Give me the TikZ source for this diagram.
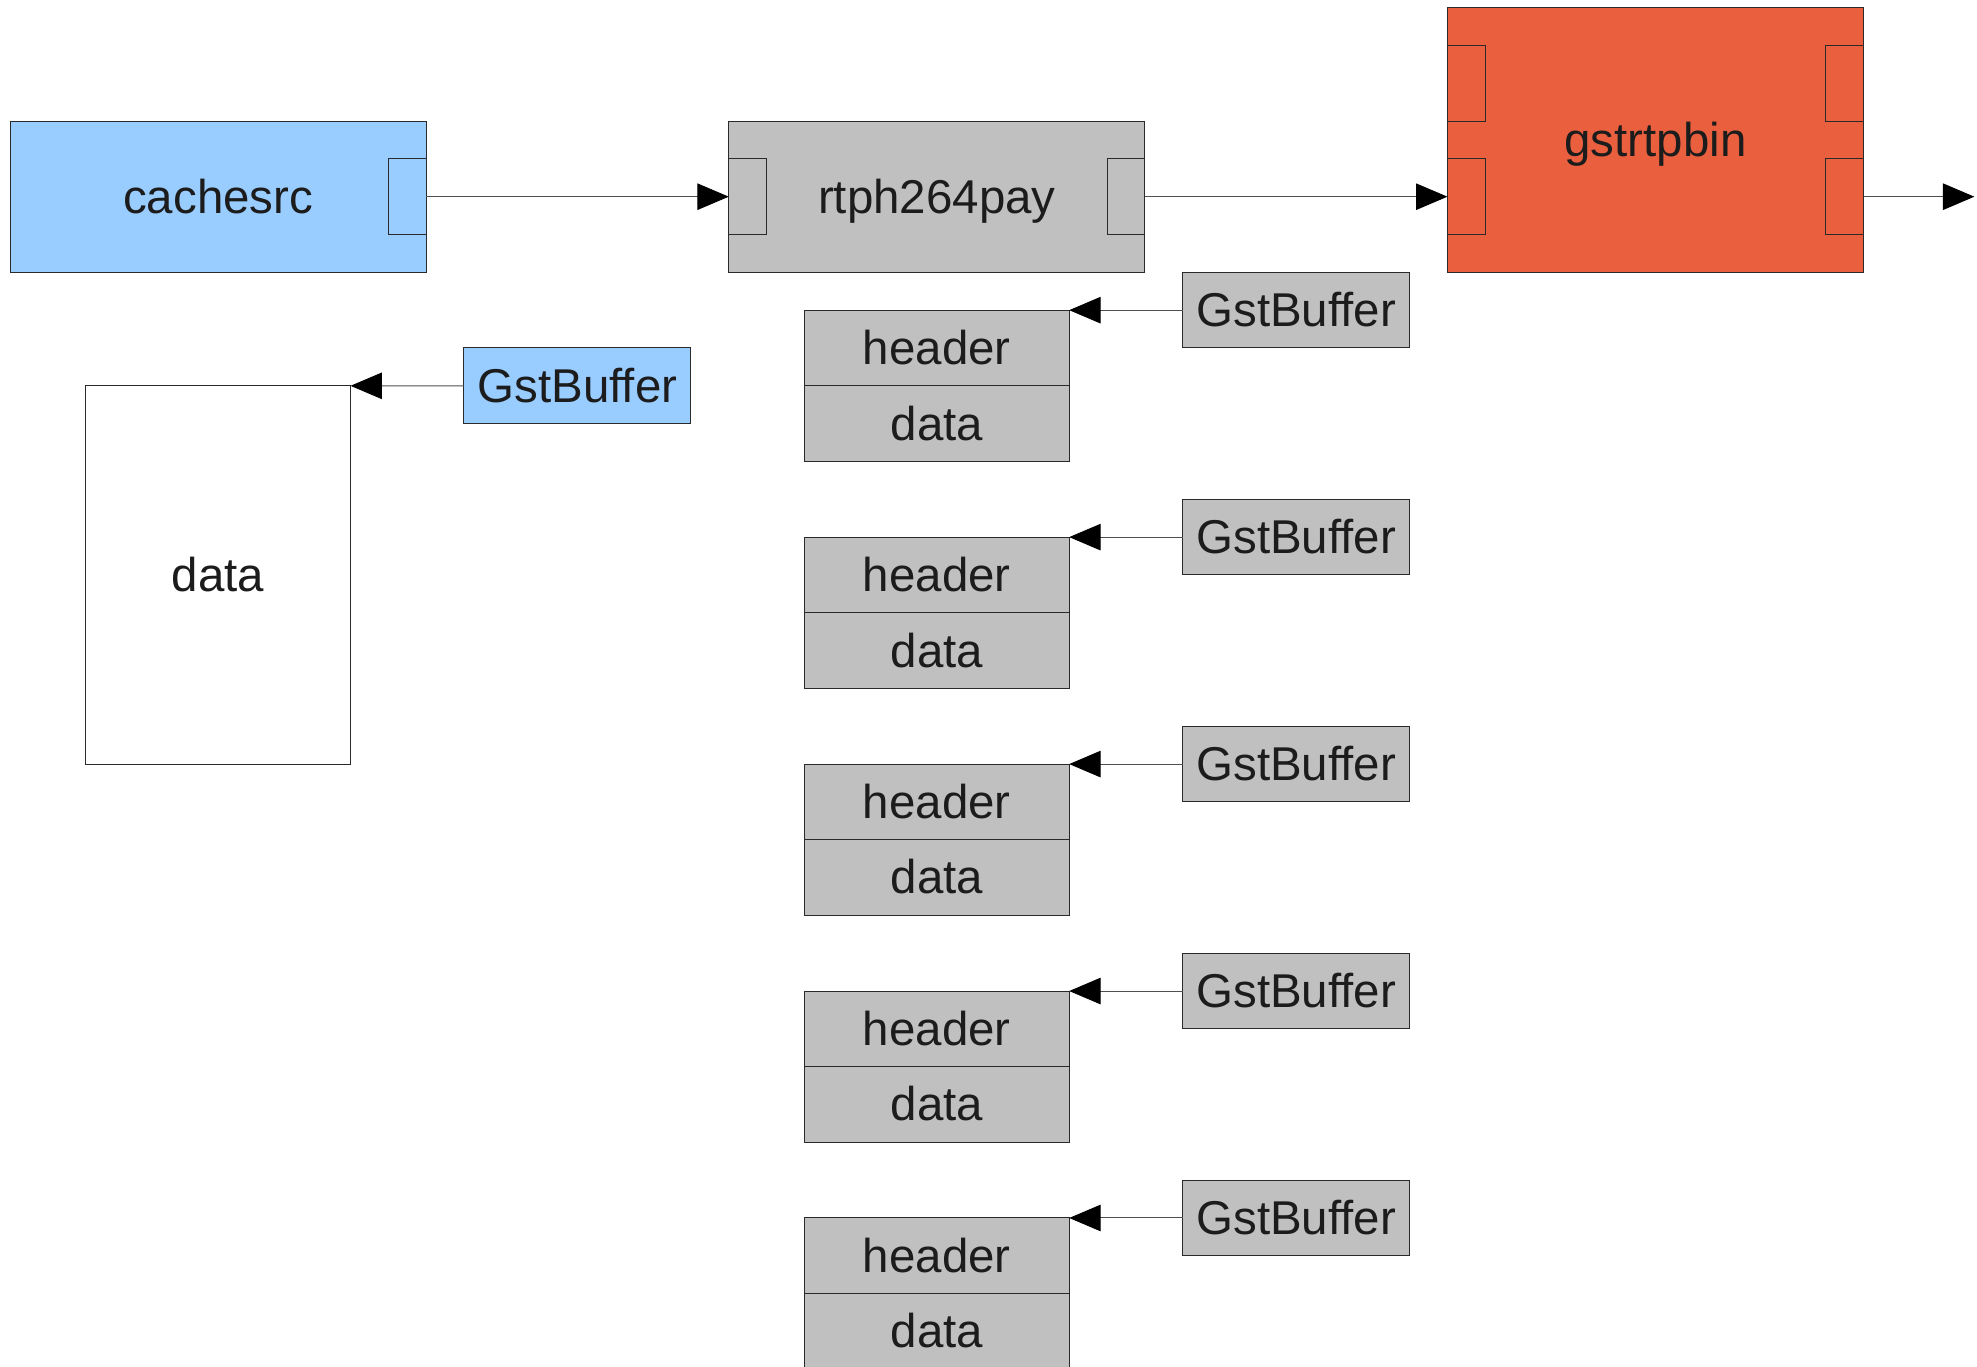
\documentclass[tikz,border=0pt]{standalone}
\usepackage{fontspec}
\setmainfont{Liberation Sans}
\usetikzlibrary{arrows.meta}
\definecolor{srcblue}{HTML}{99CCFF}
\definecolor{elgray}{HTML}{C0C0C0}
\definecolor{binred}{HTML}{EA603F}
\definecolor{txtc}{HTML}{1C1C1C}
\definecolor{edgec}{HTML}{2A2A2A}
\definecolor{connc}{HTML}{505050}
\begin{document}
\begin{tikzpicture}[x=1cm,y=-1cm,
  box/.style={draw=edgec, line width=0.75pt, inner sep=0pt, outer sep=0pt, text=txtc,
    font=\fontsize{35.7}{40}\selectfont, text height=32.3pt, text depth=7.57pt, rectangle},
  elem/.style={box, minimum width=11cm, minimum height=4cm},
  portbox/.style={box, minimum width=1cm, minimum height=2cm},
  bufbox/.style={box, fill=elgray, minimum width=6cm, minimum height=2cm},
  partbox/.style={box, fill=elgray, minimum width=7cm, minimum height=2cm},
  conn/.style={draw=connc, line width=0.75pt, -{Triangle[length=0.83cm,width=0.7cm,color=black]}}
]
\useasboundingbox (-0.2667,-0.2) rectangle (52,35.9333);

% cachesrc
\node[elem, fill=srcblue] (src) at (5.5,5) {cachesrc};
\node[portbox, fill=srcblue] (srcout) at (10.5,5) {};

% rtph264pay
\node[elem, fill=elgray] (pay) at (24.5,5) {rtph264pay};
\node[portbox, fill=elgray] (payin) at (19.5,5) {};
\node[portbox, fill=elgray] (payout) at (29.5,5) {};

% gstrtpbin
\node[elem, fill=binred, minimum height=7cm] (bin) at (43.5,3.5) {gstrtpbin};
\node[portbox, fill=binred] (binin1) at (38.5,2) {};
\node[portbox, fill=binred] (binin2) at (38.5,5) {};
\node[portbox, fill=binred] (binout1) at (48.5,2) {};
\node[portbox, fill=binred] (binout2) at (48.5,5) {};
\coordinate (outend) at (51.93,5);

\draw[conn] (srcout.east) -- (payin.west);
\draw[conn] (payout.east) -- (binin2.west);
\draw[conn] (binout2.east) -- (outend);

% cachesrc buffer
\node[box, fill=white, minimum width=7cm, minimum height=10cm] (bigdata) at (5.5,15) {data};
\node[bufbox, fill=srcblue] (srcbuf) at (15,10) {GstBuffer};
\draw[conn] (srcbuf.west) -- (bigdata.north east);

% payloaded buffers
\foreach \b [count=\i] in {8,14,20,26,32} {
  \node[partbox] (hdr\i) at (24.5,\b+1) {header};
  \node[partbox] (dat\i) at (24.5,\b+3) {data};
  \node[bufbox] (buf\i) at (34,\b) {GstBuffer};
  \draw[conn] (buf\i.west) -- (hdr\i.north east);
}
\end{tikzpicture}
\end{document}
